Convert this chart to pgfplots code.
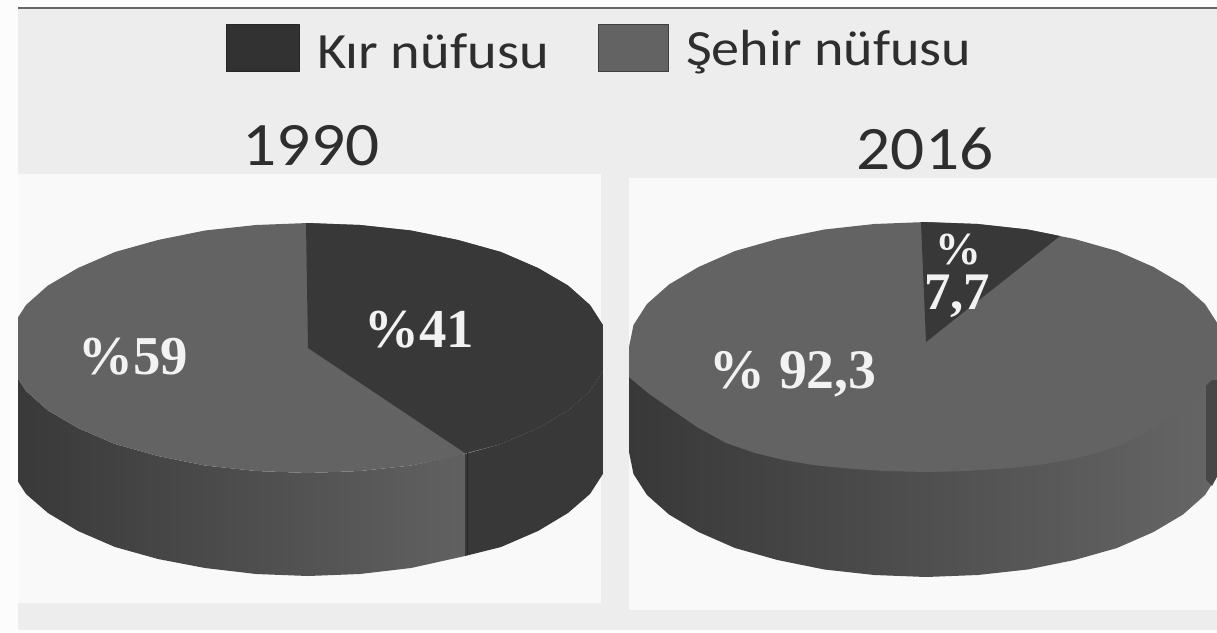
\documentclass[border=0pt]{standalone}
\usepackage{pgfplots}
\pgfplotsset{compat=1.18}
\usepackage{fontspec}
\setmainfont{Carlito}
\newfontfamily\serifl{Liberation Serif}
\definecolor{darkpie}{HTML}{383838}
\definecolor{midpie}{HTML}{636363}
\definecolor{bgout}{HTML}{EDEDED}
\definecolor{panel}{HTML}{F9F9F9}
\definecolor{marg}{HTML}{FCFCFC}
\definecolor{labelc}{HTML}{F2F2F2}
\definecolor{txt}{HTML}{2E2E2E}
\begin{document}
\begin{tikzpicture}
\begin{axis}[
  width=1217bp, height=632bp, scale only axis,
  xmin=0, xmax=1217, ymin=0, ymax=632, y dir=reverse,
  hide axis, no markers,
  every axis plot/.append style={draw=none, forget plot, line join=round},
]
% page background
\addplot[fill=marg] coordinates {(0,0)(1217,0)(1217,632)(0,632)};
\addplot[fill=bgout] coordinates {(18,8)(1217,8)(1217,630)(18,630)};
\addplot[draw=black!60, line width=1.6bp] coordinates {(18,8)(1217,8)};
% panels
\addplot[fill=panel] coordinates {(18,174)(601,174)(601,603)(18,603)};
\addplot[fill=panel] coordinates {(629,178)(1217,178)(1217,610)(629,610)};

% 1990 pie: side walls
\addplot[left color=black!78, middle color=black!72, right color=black!62]
 coordinates {(8,348)(12.5,370)(26,391)(48,410.5)(78,428)(115,444)(158,456)(205,465.5)(256,471)(308,473)(360,471)(411,465.5)(465,454)
 (465,556)(411,568)(360,574)(308,576)(256,574)(205,568)(158,559)(115,547)(78,531)(48,513)(26,494)(12.5,473)(8,451)};
\addplot[fill=darkpie] coordinates {(465,454)(501,444)(538,428)(568,410.5)(590,391)(603.5,370)(608,348)(608,451)(603.5,473)(590,494)(568,513)(538,531)(501,547)(465,556)};
% 1990 pie: top face, Sehir
\addplot[fill=midpie] coordinates {(608,348)(603.5,370)(590,391)(568,410.5)(538,428)(501,444)(458,456)(411,465.5)(360,471)(308,473)
 (256,471)(205,465.5)(158,456)(115,444)(78,428)(48,410.5)(26,391)(12.5,370)(8,348)
 (12.5,326)(26,305)(48,285.5)(78,268)(115,252)(158,240)(205,230.5)(256,225)(308,223)
 (360,225)(411,230.5)(458,240)(501,252)(538,268)(568,285.5)(590,305)(603.5,326)};
% 1990 pie: top face, Kir
\addplot[fill=darkpie] coordinates {(308,348)(306,223)(360,225)(411,230.5)(458,240)(501,252)(538,268)(568,285.5)(590,305)(603.5,326)(608,348)
 (603.5,370)(590,391)(568,410.5)(538,428)(501,444)(465,453)};
\addplot[draw=black!85, line width=0.8bp] coordinates {(467,452)(467,555)};

% 2016 pie: side wall
\addplot[left color=black!78, middle color=black!68, right color=black!60]
 coordinates {(629,347)(1223,347)(1223,452)(1218.5,474)(1205,495)(1183,514.5)(1153.5,532)(1117,548)(1074.5,560)(1027.6,569.5)(977.7,575)(926,577)
 (874.3,575)(824.4,569.5)(777.5,560)(735,548)(698.5,532)(669,514.5)(647,495)(633.5,474)(629,452)};
\addplot[fill=black!72] coordinates {(1206,380)(1223,380)(1223,452)(1218.5,474)(1212,486)(1206,480)};
% 2016 pie: top face, Sehir
\addplot[fill=midpie] coordinates {(629,347)(633.5,325)(647,304)(669,284.5)(698.5,267)(735,251)(777.5,239)(824.4,229.5)(874.3,224)(926,222)
 (977.7,224)(1027.6,229.5)(1074.5,239)(1117,251)(1153.5,267)(1183,284.5)(1205,304)(1218.5,325)(1223,347)
 (1220,372)(1184,407)(1155,427)(1126,443)(1097,453)(1068,460)(1039,465)(1010,468)(968,471)(926,472)(884,471)(842,468)(813,465)(784,460)(755,453)(726,443)(697,427)(668,407)(648,393)(629,377)};
% 2016 pie: top face, Kir
\addplot[fill=darkpie] coordinates {(926,342)(921,222)(977.7,224)(1027.6,229.5)(1060,236)};

% margins over the pies
\addplot[fill=marg] coordinates {(0,170)(18,170)(18,632)(0,632)};
\addplot[fill=bgout] coordinates {(603,174)(629,174)(629,628)(603,628)};

% legend
\addplot[fill=darkpie!90!black, draw=black!85, line width=1bp] coordinates {(226,25)(299,25)(299,72)(226,72)(226,25)};
\addplot[fill=midpie, draw=black!75, line width=1bp] coordinates {(598,25)(668,25)(668,72)(598,72)(598,25)};
\node[anchor=base west, inner sep=0pt, text=txt, font=\fontsize{51}{51}\selectfont] at (axis cs:317,69) {\scalebox{1.11}[1]{Kır nüfusu}};
\node[anchor=base west, inner sep=0pt, text=txt, font=\fontsize{51}{51}\selectfont] at (axis cs:686,66) {\scalebox{1.104}[1]{Şehir nüfusu}};
% titles
\node[anchor=base, inner sep=0pt, text=txt, font=\fontsize{62}{62}\selectfont] at (axis cs:311,165) {\scalebox{1.09}[1]{1990}};
\node[anchor=base, inner sep=0pt, text=txt, font=\fontsize{62}{62}\selectfont] at (axis cs:925,169) {\scalebox{1.09}[1]{2016}};
% value labels
\node[anchor=base, inner sep=0pt, text=labelc, font=\serifl\bfseries\fontsize{55}{55}\selectfont] at (axis cs:419,347) {\%41};
\node[anchor=base, inner sep=0pt, text=labelc, font=\serifl\bfseries\fontsize{55}{55}\selectfont] at (axis cs:133,374) {\%59};
\node[anchor=base, inner sep=0pt, text=labelc, font=\serifl\bfseries\fontsize{56}{56}\selectfont] at (axis cs:793,388) {\% 92,3};
\node[anchor=base, inner sep=0pt, text=labelc, font=\serifl\bfseries\fontsize{46}{46}\selectfont] at (axis cs:958,264) {\%};
\node[anchor=base, inner sep=0pt, text=labelc, font=\serifl\bfseries\fontsize{53}{53}\selectfont] at (axis cs:957,309) {7,7};
\end{axis}
\end{tikzpicture}
\end{document}
